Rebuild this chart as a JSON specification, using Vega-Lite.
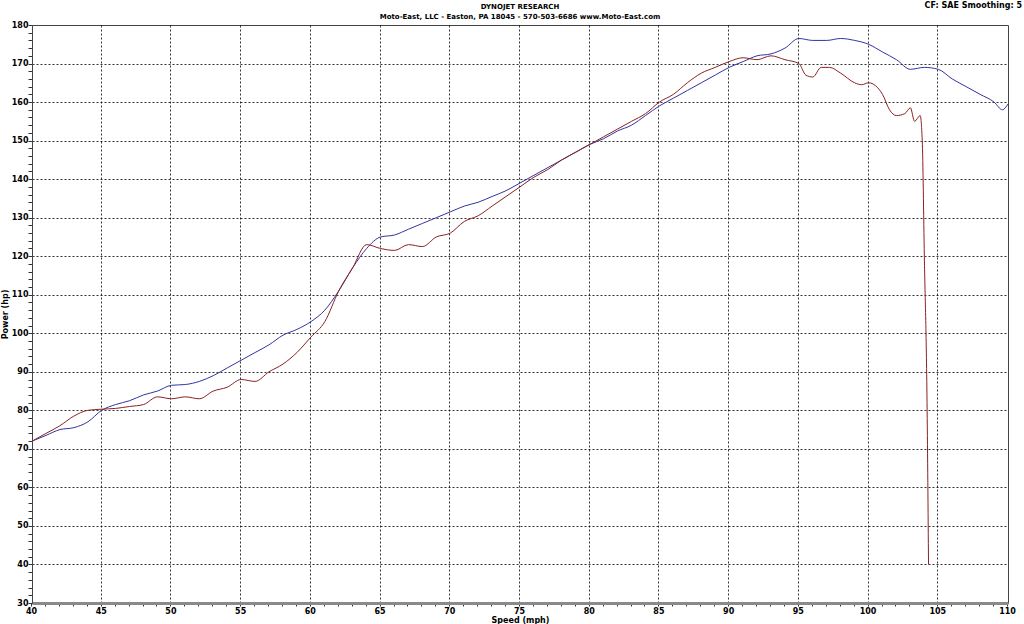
{
  "$schema": "https://vega.github.io/schema/vega-lite/v6.json",
  "width": 976,
  "height": 578,
  "autosize": "none",
  "padding": {"left": 32, "top": 25, "right": 16, "bottom": 21},
  "background": "white",
  "config": {
    "font": "DejaVu Sans",
    "view": {"stroke": "#444", "strokeWidth": 1}
  },
  "title": {
    "text": "DYNOJET RESEARCH",
    "subtitle": "Moto-East, LLC - Easton, PA 18045 - 570-503-6686 www.Moto-East.com",
    "fontSize": 7,
    "fontWeight": "bold",
    "subtitleFontSize": 7,
    "subtitleFontWeight": "bold",
    "subtitleColor": "#000",
    "color": "#000",
    "subtitlePadding": 3,
    "offset": -18,
    "frame": "group",
    "anchor": "middle",
    "font": "DejaVu Sans",
    "subtitleFont": "DejaVu Sans"
  },
  "datasets": {
    "runs": [
      {"mph": 40, "hp": 72, "run": "A"}, {"mph": 41, "hp": 73.5, "run": "A"}, {"mph": 42, "hp": 75, "run": "A"}, {"mph": 43, "hp": 75.5, "run": "A"}, {"mph": 44, "hp": 77, "run": "A"}, {"mph": 45, "hp": 80, "run": "A"}, {"mph": 46, "hp": 81.5, "run": "A"}, {"mph": 47, "hp": 82.5, "run": "A"}, {"mph": 48, "hp": 84, "run": "A"}, {"mph": 49, "hp": 85, "run": "A"}, {"mph": 50, "hp": 86.5, "run": "A"}, {"mph": 51, "hp": 86.7, "run": "A"}, {"mph": 52, "hp": 87.5, "run": "A"}, {"mph": 53, "hp": 89, "run": "A"}, {"mph": 54, "hp": 91, "run": "A"}, {"mph": 55, "hp": 93, "run": "A"}, {"mph": 56, "hp": 95, "run": "A"}, {"mph": 57, "hp": 97, "run": "A"}, {"mph": 58, "hp": 99.5, "run": "A"}, {"mph": 59, "hp": 101, "run": "A"}, {"mph": 60, "hp": 103, "run": "A"}, {"mph": 61, "hp": 106, "run": "A"}, {"mph": 62, "hp": 111, "run": "A"}, {"mph": 63, "hp": 117, "run": "A"}, {"mph": 64, "hp": 122, "run": "A"}, {"mph": 65, "hp": 125, "run": "A"}, {"mph": 66, "hp": 125.5, "run": "A"}, {"mph": 67, "hp": 127, "run": "A"}, {"mph": 68, "hp": 128.5, "run": "A"}, {"mph": 69, "hp": 130, "run": "A"}, {"mph": 70, "hp": 131.5, "run": "A"}, {"mph": 71, "hp": 133, "run": "A"}, {"mph": 72, "hp": 134, "run": "A"}, {"mph": 73, "hp": 135.5, "run": "A"}, {"mph": 74, "hp": 137, "run": "A"}, {"mph": 75, "hp": 139, "run": "A"}, {"mph": 76, "hp": 141, "run": "A"}, {"mph": 77, "hp": 143, "run": "A"}, {"mph": 78, "hp": 145, "run": "A"}, {"mph": 79, "hp": 147, "run": "A"}, {"mph": 80, "hp": 149, "run": "A"}, {"mph": 81, "hp": 150.5, "run": "A"}, {"mph": 82, "hp": 152.5, "run": "A"}, {"mph": 83, "hp": 154, "run": "A"}, {"mph": 84, "hp": 156.5, "run": "A"}, {"mph": 85, "hp": 159, "run": "A"}, {"mph": 86, "hp": 161, "run": "A"}, {"mph": 87, "hp": 163, "run": "A"}, {"mph": 88, "hp": 165, "run": "A"}, {"mph": 89, "hp": 167, "run": "A"}, {"mph": 90, "hp": 169, "run": "A"}, {"mph": 91, "hp": 170.5, "run": "A"}, {"mph": 92, "hp": 172, "run": "A"}, {"mph": 93, "hp": 172.5, "run": "A"}, {"mph": 94, "hp": 174, "run": "A"}, {"mph": 95, "hp": 176.5, "run": "A"}, {"mph": 96, "hp": 176, "run": "A"}, {"mph": 97, "hp": 176, "run": "A"}, {"mph": 98, "hp": 176.5, "run": "A"}, {"mph": 99, "hp": 176, "run": "A"}, {"mph": 100, "hp": 175, "run": "A"}, {"mph": 101, "hp": 173, "run": "A"}, {"mph": 102, "hp": 171, "run": "A"}, {"mph": 103, "hp": 168.5, "run": "A"}, {"mph": 104, "hp": 169, "run": "A"}, {"mph": 105, "hp": 168.5, "run": "A"}, {"mph": 106, "hp": 166, "run": "A"}, {"mph": 107, "hp": 164, "run": "A"}, {"mph": 108, "hp": 162, "run": "A"}, {"mph": 109, "hp": 160, "run": "A"}, {"mph": 109.6, "hp": 158, "run": "A"}, {"mph": 110, "hp": 159.5, "run": "A"},
      {"mph": 40, "hp": 72, "run": "B"}, {"mph": 41, "hp": 74, "run": "B"}, {"mph": 42, "hp": 76, "run": "B"}, {"mph": 43, "hp": 78.5, "run": "B"}, {"mph": 44, "hp": 80, "run": "B"}, {"mph": 45, "hp": 80.3, "run": "B"}, {"mph": 46, "hp": 80.5, "run": "B"}, {"mph": 47, "hp": 81, "run": "B"}, {"mph": 48, "hp": 81.5, "run": "B"}, {"mph": 49, "hp": 83.5, "run": "B"}, {"mph": 50, "hp": 83, "run": "B"}, {"mph": 51, "hp": 83.5, "run": "B"}, {"mph": 52, "hp": 83, "run": "B"}, {"mph": 53, "hp": 85, "run": "B"}, {"mph": 54, "hp": 86, "run": "B"}, {"mph": 55, "hp": 88, "run": "B"}, {"mph": 56, "hp": 87.5, "run": "B"}, {"mph": 57, "hp": 90, "run": "B"}, {"mph": 58, "hp": 92, "run": "B"}, {"mph": 59, "hp": 95, "run": "B"}, {"mph": 60, "hp": 99, "run": "B"}, {"mph": 61, "hp": 103, "run": "B"}, {"mph": 62, "hp": 111, "run": "B"}, {"mph": 63, "hp": 117, "run": "B"}, {"mph": 64, "hp": 123, "run": "B"}, {"mph": 65, "hp": 122, "run": "B"}, {"mph": 66, "hp": 121.5, "run": "B"}, {"mph": 67, "hp": 123, "run": "B"}, {"mph": 68, "hp": 122.5, "run": "B"}, {"mph": 69, "hp": 125, "run": "B"}, {"mph": 70, "hp": 126, "run": "B"}, {"mph": 71, "hp": 129, "run": "B"}, {"mph": 72, "hp": 130.5, "run": "B"}, {"mph": 73, "hp": 133, "run": "B"}, {"mph": 74, "hp": 135.5, "run": "B"}, {"mph": 75, "hp": 138, "run": "B"}, {"mph": 76, "hp": 140.5, "run": "B"}, {"mph": 77, "hp": 142.5, "run": "B"}, {"mph": 78, "hp": 145, "run": "B"}, {"mph": 79, "hp": 147, "run": "B"}, {"mph": 80, "hp": 149, "run": "B"}, {"mph": 81, "hp": 151, "run": "B"}, {"mph": 82, "hp": 153, "run": "B"}, {"mph": 83, "hp": 155, "run": "B"}, {"mph": 84, "hp": 157, "run": "B"}, {"mph": 85, "hp": 160, "run": "B"}, {"mph": 86, "hp": 162, "run": "B"}, {"mph": 87, "hp": 165, "run": "B"}, {"mph": 88, "hp": 167.5, "run": "B"}, {"mph": 89, "hp": 169, "run": "B"}, {"mph": 90, "hp": 170.5, "run": "B"}, {"mph": 91, "hp": 171.5, "run": "B"}, {"mph": 92, "hp": 171, "run": "B"}, {"mph": 93, "hp": 172, "run": "B"}, {"mph": 94, "hp": 171, "run": "B"}, {"mph": 95, "hp": 170, "run": "B"}, {"mph": 95.5, "hp": 167, "run": "B"}, {"mph": 96, "hp": 166.5, "run": "B"}, {"mph": 96.6, "hp": 169, "run": "B"}, {"mph": 97.2, "hp": 169, "run": "B"}, {"mph": 98, "hp": 167.5, "run": "B"}, {"mph": 99, "hp": 165, "run": "B"}, {"mph": 99.5, "hp": 164.5, "run": "B"}, {"mph": 100, "hp": 165, "run": "B"}, {"mph": 101, "hp": 162, "run": "B"}, {"mph": 101.5, "hp": 158, "run": "B"}, {"mph": 102, "hp": 156.5, "run": "B"}, {"mph": 102.6, "hp": 157, "run": "B"}, {"mph": 103, "hp": 158.5, "run": "B"}, {"mph": 103.3, "hp": 155, "run": "B"}, {"mph": 103.7, "hp": 156.5, "run": "B"}, {"mph": 103.85, "hp": 150, "run": "B"}, {"mph": 104, "hp": 120, "run": "B"}, {"mph": 104.2, "hp": 80, "run": "B"}, {"mph": 104.3, "hp": 40, "run": "B"}
    ],
    "note": [{"mph": 110, "hp": 180, "txt": "CF: SAE  Smoothing: 5"}]
  },
  "layer": [
    {
      "data": {"name": "runs"},
      "mark": {"type": "line", "strokeWidth": 1, "interpolate": "monotone", "clip": true},
      "encoding": {
        "x": {
          "field": "mph", "type": "quantitative",
          "scale": {"domain": [40, 110], "nice": false, "zero": false},
          "axis": {
            "title": "Speed (mph)",
            "titleFontSize": 8, "titleFontWeight": "bold", "titleColor": "#000", "titlePadding": 1,
            "tickCount": 500,
            "format": "d",
            "values": [40,41,42,43,44,45,46,47,48,49,50,51,52,53,54,55,56,57,58,59,60,61,62,63,64,65,66,67,68,69,70,71,72,73,74,75,76,77,78,79,80,81,82,83,84,85,86,87,88,89,90,91,92,93,94,95,96,97,98,99,100,101,102,103,104,105,106,107,108,109,110],
            "labelExpr": "datum.value % 5 === 0 ? datum.label : ''",
            "labelFontSize": 8, "labelFontWeight": "bold", "labelColor": "#000", "labelPadding": 1,
            "labelFlush": false, "labelOverlap": false,
            "grid": true,
            "gridColor": "#000", "gridDash": [2, 2], "gridWidth": 1,
            "gridOpacity": {"condition": {"test": "datum.value % 5 === 0 && datum.value > 40 && datum.value < 110", "value": 0.8}, "value": 0},
            "domainColor": "#8a8a8a", "domainWidth": 3,
            "tickColor": "#333", "tickSize": 3, "tickOffset": -1
          }
        },
        "y": {
          "field": "hp", "type": "quantitative",
          "scale": {"domain": [30, 180], "nice": false, "zero": false},
          "axis": {
            "title": "Power (hp)",
            "titleFontSize": 8, "titleFontWeight": "bold", "titleColor": "#000", "titlePadding": 2,
            "tickCount": 500,
            "format": "d",
            "values": [30,32,34,36,38,40,42,44,46,48,50,52,54,56,58,60,62,64,66,68,70,72,74,76,78,80,82,84,86,88,90,92,94,96,98,100,102,104,106,108,110,112,114,116,118,120,122,124,126,128,130,132,134,136,138,140,142,144,146,148,150,152,154,156,158,160,162,164,166,168,170,172,174,176,178,180],
            "labelExpr": "datum.value % 10 === 0 ? datum.label : ''",
            "labelFontSize": 8, "labelFontWeight": "bold", "labelColor": "#000", "labelPadding": 0,
            "labelFlush": false, "labelOverlap": false,
            "grid": true,
            "gridColor": "#000", "gridDash": [2, 2], "gridWidth": 1,
            "gridOpacity": {"condition": {"test": "datum.value % 10 === 0 && datum.value > 30 && datum.value < 180", "value": 0.8}, "value": 0},
            "domainColor": "#444", "domainWidth": 1,
            "tickColor": "#333", "tickSize": 4, "tickOffset": 0
          }
        },
        "color": {
          "field": "run", "type": "nominal",
          "scale": {"domain": ["A", "B"], "range": ["#3333a0", "#8a2222"]},
          "legend": null
        }
      }
    },
    {
      "data": {"name": "note"},
      "mark": {"type": "text", "align": "right", "baseline": "top", "dx": 14, "dy": -23, "fontSize": 8, "fontWeight": "bold", "font": "DejaVu Sans", "color": "#000"},
      "encoding": {
        "x": {"field": "mph", "type": "quantitative"},
        "y": {"field": "hp", "type": "quantitative"},
        "text": {"field": "txt"}
      }
    }
  ]
}
